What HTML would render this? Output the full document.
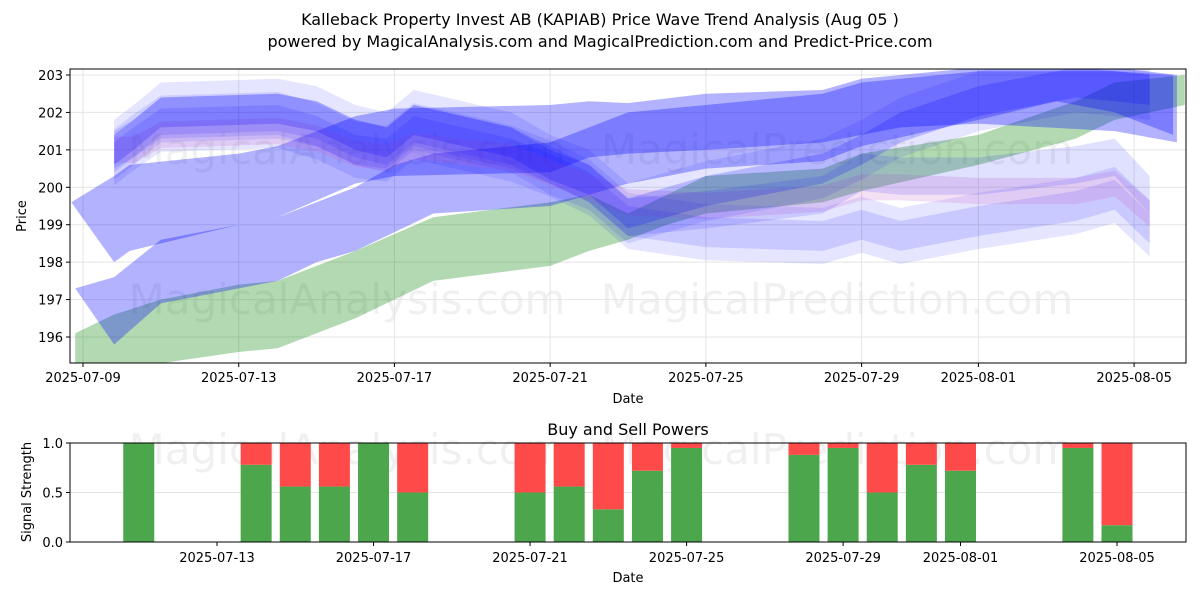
<!DOCTYPE html>
<html><head><meta charset="utf-8"><style>
body{margin:0;background:#fff;font-family:"Liberation Sans","DejaVu Sans",sans-serif}
svg text{font-family:"DejaVu Sans","Liberation Sans",sans-serif}
</style></head><body>
<svg id="c" width="1200" height="600" viewBox="0 0 1200 600" xmlns="http://www.w3.org/2000/svg">
<rect width="1200" height="600" fill="#fff"/>
<text x="600" y="25" text-anchor="middle" font-size="16">Kalleback Property Invest AB (KAPIAB) Price Wave Trend Analysis (Aug 05 )</text>
<text x="600" y="47" text-anchor="middle" font-size="16">powered by MagicalAnalysis.com and MagicalPrediction.com and Predict-Price.com</text>
<g id="topg"></g><g id="botg"></g>
</svg>
<script>
const priceTicks=[196,197,198,199,200,201,202,203];
const dateTicks=[0,4,8,12,16,20,23,27];
const dateLabels=['2025-07-09','2025-07-13','2025-07-17','2025-07-21','2025-07-25','2025-07-29','2025-08-01','2025-08-05'];
const greenDays=[-0.2,0.8,2,4,5,7,9,12,13,14,15,16,19,20,23,25.5,26.5,28.3];
const greenUpper=[196.1,196.6,197.0,197.4,197.5,198.3,199.2,199.6,199.8,199.3,199.8,200.3,200.5,200.9,201.4,202.3,202.8,203.0];
const greenLower=[195.2,195.1,195.3,195.6,195.7,196.5,197.5,197.9,198.3,198.6,199.0,199.3,199.6,199.9,200.6,201.3,201.8,202.2];
const bandADays=[-0.3,0.8,1.2,4,5,7,8,12,13,14,16,19,20,21,23,26.5,28.1];
const bandAUpper=[199.6,200.3,200.6,200.9,201.1,201.9,202.1,202.2,202.3,202.25,202.5,202.6,202.9,203.0,203.2,203.2,203.0];
const bandALower=[199.6,198.0,198.3,199.0,199.2,200.1,200.3,200.4,200.8,200.9,201.0,201.2,201.4,201.6,201.7,201.5,201.2];
const bandBDays=[-0.2,0.8,2,5,6,7,8,9,12,13,14,16,19,20,23,25,26.5,28.0];
const bandBUpper=[197.3,197.6,198.6,199.2,199.6,200.0,200.6,200.9,201.2,201.6,202.0,202.2,202.5,202.8,203.1,203.1,203.1,203.0];
const bandBLower=[197.3,195.8,196.9,197.5,198.0,198.3,198.8,199.3,199.5,199.8,200.1,200.5,200.7,201.1,201.8,202.3,202.0,201.4];
const waveDays=[0.8,1.3,2,5,6,7,7.8,8.5,11,12,13,14,16,19,20,21,23,25.5,26.5,27.4];
const waveHigh=[201.0,201.4,202.0,202.1,201.9,201.4,201.2,201.8,201.2,200.6,200.2,199.3,199.9,200.5,201.0,201.6,202.3,202.8,202.7,202.6];
const waveLow=[200.8,201.2,201.7,201.8,201.5,201.0,200.9,201.5,200.9,200.5,200.0,199.1,198.8,198.7,199.0,198.7,199.1,199.5,199.8,198.9];
const wavePink=[201.0,201.0,201.4,201.5,201.3,200.9,200.8,201.1,200.8,200.4,200.0,199.6,199.5,199.7,200.0,200.0,199.9,199.9,200.1,199.3];
const waveMid=[201.0,201.3,201.9,202.0,201.8,201.3,201.1,201.7,201.1,200.6,200.1,199.2,199.4,199.8,200.4,200.3,200.3,200.6,200.8,199.8];
const barDays=[2,5,6,7,8,9,12,13,14,15,16,19,20,21,22,23,26,27];
const buyPower=[1.0,0.78,0.56,0.56,1.0,0.5,0.5,0.56,0.33,0.72,0.95,0.88,0.95,0.5,0.78,0.72,0.95,0.17];
const NS='http://www.w3.org/2000/svg';
function mk(p,t,a){const e=document.createElementNS(NS,t);for(const k in a)e.setAttribute(k,a[k]);p.appendChild(e);return e;}
const topG=document.getElementById('topg'),botG=document.getElementById('botg');
const L=70,R=1186,T=69,B=363;
const X=d=>83+d*38.93;
const Y=v=>75+(203-v)*37.43;
[[347,150,'MagicalAnalysis.com'],[837,150,'MagicalPrediction.com'],[347,300,'MagicalAnalysis.com'],[837,300,'MagicalPrediction.com'],[347,450,'MagicalAnalysis.com'],[837,450,'MagicalPrediction.com']].forEach(w=>{const t=mk(topG,'text',{x:w[0],y:w[1]+14,'text-anchor':'middle','font-size':42,fill:'rgba(0,0,0,0.06)'});t.textContent=w[2];

});
priceTicks.forEach(v=>{const l=mk(topG,'line',{x1:L,x2:R,y1:Y(v),y2:Y(v),stroke:'#e4e4e4','stroke-width':1});

});
dateTicks.forEach(d=>{const l=mk(topG,'line',{x1:X(d),x2:X(d),y1:T,y2:B,stroke:'#e4e4e4','stroke-width':1});

});
const cp=mk(topG,'clipPath',{id:'cp'});mk(cp,'rect',{x:L,y:T,width:R-L,height:B-T});
const plot=mk(topG,'g',{'clip-path':'url(#cp)'});
function band(days,up,lo,fill,name){let pts=days.map((d,i)=>X(d)+','+Y(up[i]));for(let i=days.length-1;i>=0;i--)pts.push(X(days[i])+','+Y(lo[i]));
const p=mk(plot,'polygon',{points:pts.join(' '),fill:fill});

}
function wave(days,c,hw,fill,name){band(days,c.map(v=>v+hw),c.map(v=>v-hw),fill,name);}
band(greenDays,greenUpper,greenLower,'rgba(0,128,0,0.3)','green-band');
band(bandBDays,bandBUpper,bandBLower,'rgba(0,0,255,0.3)','blue-band-lower');
band(bandADays,bandAUpper,bandALower,'rgba(0,0,255,0.3)','blue-band-upper');
wave(waveDays,waveLow,0.75,'rgba(0,0,255,0.1)','wave-low-outer');
wave(waveDays,waveLow,0.4,'rgba(0,0,255,0.12)','wave-low-inner');
wave(waveDays,wavePink,0.35,'rgba(200,100,200,0.2)','wave-pink');
wave(waveDays,waveMid,0.5,'rgba(0,0,255,0.12)','wave-mid');
wave(waveDays,waveHigh,0.8,'rgba(0,0,255,0.1)','wave-high-outer');
wave(waveDays,waveHigh,0.4,'rgba(0,0,255,0.2)','wave-high-inner');
mk(topG,'rect',{x:L,y:T,width:R-L,height:B-T,fill:'none',stroke:'#000','stroke-width':1});
priceTicks.forEach(v=>{mk(topG,'line',{x1:L-4,x2:L,y1:Y(v),y2:Y(v),stroke:'#000'});const t=mk(topG,'text',{x:L-7,y:Y(v)+5,'text-anchor':'end','font-size':13});t.textContent=v;

});
dateTicks.forEach((d,i)=>{mk(topG,'line',{x1:X(d),x2:X(d),y1:B,y2:B+4,stroke:'#000'});const t=mk(topG,'text',{x:X(d),y:B+19,'text-anchor':'middle','font-size':13});t.textContent=dateLabels[i];

});
let t=mk(topG,'text',{x:628,y:403,'text-anchor':'middle','font-size':13});t.textContent='Date';


t=mk(topG,'text',{x:26,y:216,'text-anchor':'middle','font-size':13,transform:'rotate(-90 26 216)'});t.textContent='Price';


const bT=443,bB=542,X2=d=>60.5+d*39.13,Y2=v=>bB-v*(bB-bT);
const bTicks=[4,8,12,16,20,23,27],bLabels=['2025-07-13','2025-07-17','2025-07-21','2025-07-25','2025-07-29','2025-08-01','2025-08-05'];
mk(botG,'line',{x1:L,x2:R,y1:Y2(0.5),y2:Y2(0.5),stroke:'#e4e4e4'});
barDays.forEach((d,i)=>{const x=X2(d)-15.5;
const g=mk(botG,'rect',{x:x,y:Y2(buyPower[i]),width:31,height:Y2(0)-Y2(buyPower[i]),fill:'#4ca64c'});


const r=mk(botG,'rect',{x:x,y:Y2(1),width:31,height:Y2(buyPower[i])-Y2(1),fill:'#ff4a4a'});

});
mk(botG,'rect',{x:L,y:bT,width:R-L,height:bB-bT,fill:'none',stroke:'#000'});
[0,0.5,1].forEach(v=>{mk(botG,'line',{x1:L-4,x2:L,y1:Y2(v),y2:Y2(v),stroke:'#000'});const t=mk(botG,'text',{x:L-7,y:Y2(v)+5,'text-anchor':'end','font-size':13});t.textContent=v.toFixed(1);

});
bTicks.forEach((d,i)=>{mk(botG,'line',{x1:X2(d),x2:X2(d),y1:bB,y2:bB+4,stroke:'#000'});const t=mk(botG,'text',{x:X2(d),y:bB+20,'text-anchor':'middle','font-size':13});t.textContent=bLabels[i];

});
t=mk(botG,'text',{x:628,y:435,'text-anchor':'middle','font-size':16});t.textContent='Buy and Sell Powers';


t=mk(botG,'text',{x:628,y:582,'text-anchor':'middle','font-size':13});t.textContent='Date';


t=mk(botG,'text',{x:31,y:492,'text-anchor':'middle','font-size':13,transform:'rotate(-90 31 492)'});t.textContent='Signal Strength';


</script>
</body></html>
